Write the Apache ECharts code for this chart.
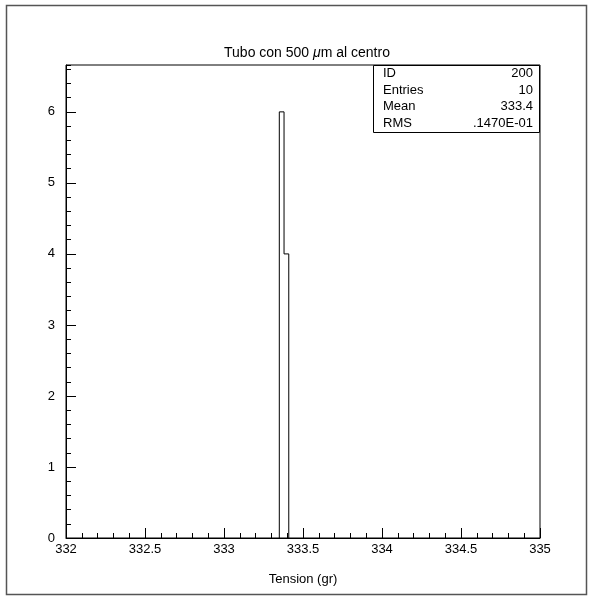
<!DOCTYPE html>
<html>
<head>
<meta charset="utf-8">
<script src="https://cdn.jsdelivr.net/npm/echarts@6/dist/echarts.min.js"></script>
<style>
html,body{margin:0;padding:0;background:#fff;}
#chart{width:593px;height:599px;}
</style>
</head>
<body>
<div id="chart"></div>
<script>
// ---- data ----
var binEdges = [333.35, 333.38, 333.41];
var binCounts = [6, 4];
var xTickLabels = ['332', '332.5', '333', '333.5', '334', '334.5', '335'];
var yTickLabels = ['0', '1', '2', '3', '4', '5', '6'];
var statNames = ['ID', 'Entries', 'Mean', 'RMS'];
var statValues = ['200', '10', '333.4', '.1470E-01'];
var titleText = 'Tubo con 500 {i|\u03bc}m al centro';
var xName = 'Tension (gr)';

// build step outline from bins
var histLine = [];
for (var i = 0; i < binCounts.length; i++) {
  if (i === 0) histLine.push([binEdges[0], 0]);
  histLine.push([binEdges[i], binCounts[i]]);
  histLine.push([binEdges[i + 1], binCounts[i]]);
}
histLine.push([binEdges[binEdges.length - 1], 0]);

var FONT = 'Liberation Sans';
var chart = echarts.init(document.getElementById('chart'), null, {renderer: 'canvas'});

var gLeft = 66, gTop = 65, gRight = 540, gBottom = 538;

var statGraphics = [{
  type: 'rect',
  shape: {x: 373.5, y: 65.5, width: 166, height: 67},
  style: {fill: '#fff', stroke: '#000', lineWidth: 1},
  z: 10
}];
var rowY = [73.5, 90, 106.5, 123];
for (var k = 0; k < statNames.length; k++) {
  statGraphics.push({
    type: 'text', x: 383, y: rowY[k], z: 11,
    style: {text: statNames[k], font: '13px ' + FONT, fill: '#000', textAlign: 'left', textVerticalAlign: 'middle'}
  });
  statGraphics.push({
    type: 'text', x: 533, y: rowY[k], z: 11,
    style: {text: statValues[k], font: '13px ' + FONT, fill: '#000', textAlign: 'right', textVerticalAlign: 'middle'}
  });
}

var option = {
  animation: false,
  backgroundColor: '#fff',
  grid: {left: gLeft, top: gTop, width: gRight - gLeft, height: gBottom - gTop,
         show: true, borderColor: '#000', borderWidth: 1, backgroundColor: 'transparent'},
  xAxis: {
    type: 'value', min: 332, max: 335, interval: 0.5,
    name: xName, nameLocation: 'middle', nameGap: 35,
    nameTextStyle: {fontFamily: FONT, fontSize: 13, color: '#000'},
    axisLine: {show: true, lineStyle: {color: '#000', width: 1}},
    axisTick: {show: true, inside: true, length: 10, lineStyle: {color: '#000'}},
    minorTick: {show: true, splitNumber: 5, length: 5, lineStyle: {color: '#000'}},
    splitLine: {show: false},
    axisLabel: {fontFamily: FONT, fontSize: 13, color: '#000', margin: 5,
      formatter: function (v) { var idx = Math.round((v - 332) / 0.5); return xTickLabels[idx] || ''; }}
  },
  yAxis: [{
    type: 'value', min: 0, max: 6.66, interval: 1,
    axisLine: {show: true, onZero: false, lineStyle: {color: '#000', width: 1}},
    axisTick: {show: true, inside: true, length: 10, lineStyle: {color: '#000'}},
    splitLine: {show: false},
    axisLabel: {fontFamily: FONT, fontSize: 13, color: '#000', margin: 11, showMaxLabel: false,
      formatter: function (v) { return (Math.abs(v - Math.round(v)) < 1e-6) ? (yTickLabels[Math.round(v)] || '') : ''; }}
  }, {
    type: 'value', min: 0, max: 6.66, interval: 0.2, position: 'left', offset: 0,
    axisLine: {show: false},
    axisTick: {show: true, inside: true, length: 5, lineStyle: {color: '#000'}},
    splitLine: {show: false},
    axisLabel: {show: false}
  }],
  graphic: [{
    type: 'rect',
    shape: {x: 6.5, y: 5.5, width: 580, height: 589},
    style: {fill: 'none', stroke: '#555', lineWidth: 1.5},
    z: 0
  }, {
    type: 'text', x: 307, y: 53, z: 11,
    style: {text: titleText, font: '14px ' + FONT, fill: '#000', textAlign: 'center', textVerticalAlign: 'middle',
      rich: {i: {fontStyle: 'italic', fontFamily: FONT, fontSize: 14, fill: '#000'}}}
  }].concat(statGraphics),
  series: [{
    type: 'line',
    data: histLine,
    showSymbol: false,
    symbol: 'none',
    lineStyle: {color: '#000', width: 1},
    silent: true
  }]
};
chart.setOption(option);
</script>
</body>
</html>
